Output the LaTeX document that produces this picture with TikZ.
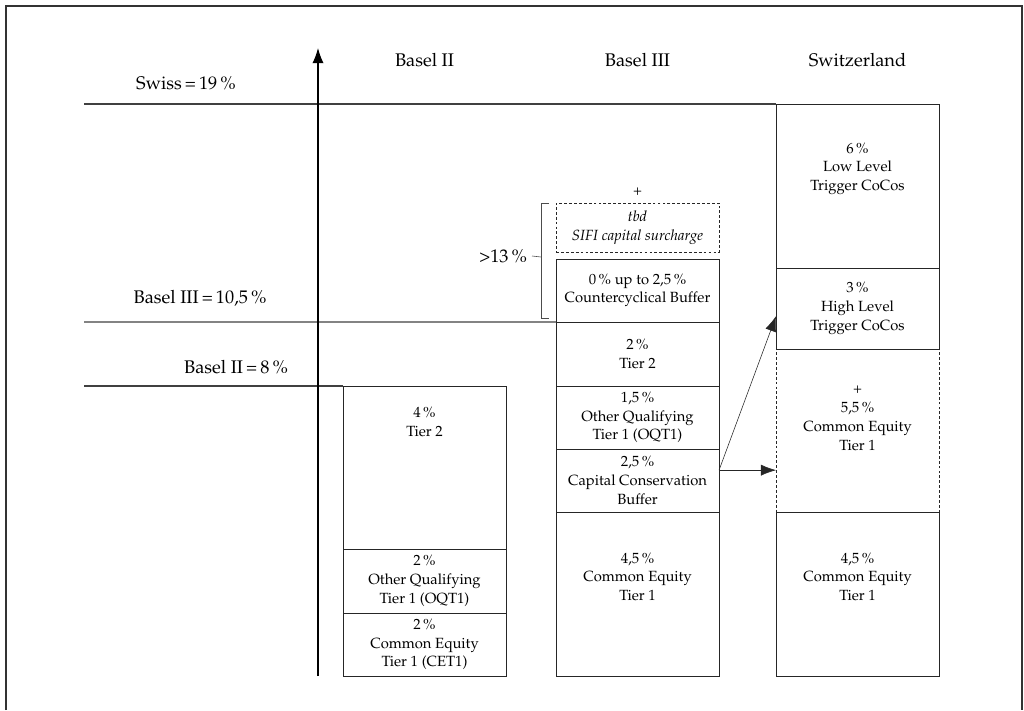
\documentclass[tikz,border=0pt]{standalone}
\usepackage[T1]{fontenc}
\usepackage{mathpazo}
\usetikzlibrary{arrows.meta,positioning}
\newcommand{\layerfont}{\fontsize{10.5}{13.4}\selectfont}
\newcommand{\headfont}{\fontsize{13}{15.5}\selectfont}
\tikzset{
        >={Latex[length=3.8mm,width=2.8mm]},
        layer/.style = {draw, black!85, text=black, minimum width=4.075cm, inner sep=0pt, outer sep=0pt, align=center, font=\layerfont},
        maybe/.style = {layer, dash pattern=on 2pt off 1.5pt},
        layertext/.style = {align=center, font=\layerfont},
        heading/.style = {font=\headfont},
        level/.style = {line width=0.8pt, black!75}
}

\begin{document}
\begin{tikzpicture}[x=0.025cm, y=-0.025cm]

        \useasboundingbox (0,0) rectangle (1024,710);
        % Frame
        \draw [black!80, line width=0.9pt] (6,710) -- (6,6) -- (1022,6) -- (1022,710);

        % Basel II column
        \node [layer, anchor=north west, minimum height=4.075cm] (btwotier) at (343,386) {};
        \node [layer, below=0pt of btwotier, minimum height=1.6cm] (btwooqt) {2\,\%\\Other Qualifying\\Tier 1 (OQT1)};
        \node [layer, below=0pt of btwooqt, minimum height=1.575cm] (btwocet) {2\,\%\\Common Equity\\Tier 1 (CET1)};
        \node [layertext] (btwotiertxt) at ([yshift=1.14cm]btwotier.center) {4\,\%\\Tier 2};

        % Basel III column
        \node [layer, anchor=north west, minimum height=1.575cm] (ccb) at (556,259) {0\,\% up to 2,5\,\%\\Countercyclical Buffer};
        \node [maybe, above=0.175cm of ccb, minimum height=1.225cm, font=\layerfont\itshape] (sifi) {tbd\\SIFI capital surcharge};
        \node [layertext, above=2pt of sifi] (plus) {+};
        \node [layer, below=0pt of ccb, minimum height=1.6cm] (bthreetier) {2\,\%\\Tier 2};
        \node [layer, below=0pt of bthreetier, minimum height=1.575cm] (bthreeoqt) {1,5\,\%\\Other Qualifying\\Tier 1 (OQT1)};
        \node [layer, below=0pt of bthreeoqt, minimum height=1.575cm] (cons) {2,5\,\%\\Capital Conservation\\Buffer};
        \node [layer, below=0pt of cons, minimum height=4.1cm] (bthreecet) {};
        \node [layertext] (bthreecettxt) at ([yshift=0.43cm]bthreecet.center) {4,5\,\%\\Common Equity\\Tier 1};

        % Switzerland column
        \node [layer, anchor=north west, minimum height=4.1cm] (swlow) at (776,104) {};
        \node [layer, below=0pt of swlow, minimum height=2.025cm] (swhigh) {3\,\%\\High Level\\Trigger CoCos};
        \node [maybe, below=0pt of swhigh, minimum height=4.075cm] (swce) {};
        \node [layer, below=0pt of swce, minimum height=4.1cm] (swcet) {};
        \node [layertext] (swlowtxt) at ([yshift=0.43cm]swlow.center) {6\,\%\\Low Level\\Trigger CoCos};
        \node [layertext] (swcetxt) at ([yshift=0.31cm]swce.center) {+\\5,5\,\%\\Common Equity\\Tier 1};
        \node [layertext] (swcettxt) at ([yshift=0.43cm]swcet.center) {4,5\,\%\\Common Equity\\Tier 1};

        % Headings
        \node [heading] (hbtwo) at (btwotier.north |- 0,60) {Basel II};
        \node [heading] (hbthree) at (ccb.north |- 0,60) {Basel III};
        \node [heading] (hswiss) at (swlow.north |- 0,60) {Switzerland};

        % Levels
        \coordinate (lswiss) at (84,104);
        \coordinate (lbthree) at (84,322);
        \coordinate (lbtwo) at (84,386);
        \draw [level] (lswiss) -- (swlow.north west);
        \draw [level] (lbthree) -- (bthreetier.north west);
        \draw [level] (lbtwo) -- (btwotier.north west);
        \node [heading] (swisslbl) at (186,83) {Swiss\,=\,19\,\%};
        \node [heading] (bthreelbl) at (200,298) {Basel III\,=\,10,5\,\%};
        \node [heading] (btwolbl) at (236,367) {Basel II\,=\,8\,\%};

        % Axis
        \coordinate (axisbot) at (318,676);
        \coordinate (axistop) at (318,48);
        \draw [->, line width=0.8pt] (axisbot) -- (axistop);

        % Bracket
        \draw [black!70] ([xshift=-0.175cm]sifi.north west) -- ([xshift=-0.375cm]sifi.north west) -- ([xshift=-0.375cm,yshift=0.1cm]ccb.south west) -- ([xshift=-0.175cm,yshift=0.1cm]ccb.south west);
        \coordinate (bracketmid) at (541,257);
        \node [heading, anchor=east] (thirteen) at (532,256) {>13\,\%};
        \draw [black!70] (bracketmid) -- (thirteen.east);

        % Arrows
        \coordinate (split) at ([yshift=0.26cm]cons.east);
        \draw [->, black!85] (split) -- (split -| swce.west);
        \draw [->, black!85] (split) -- ([yshift=-0.19cm]swhigh.west);

\end{tikzpicture}
\end{document}
